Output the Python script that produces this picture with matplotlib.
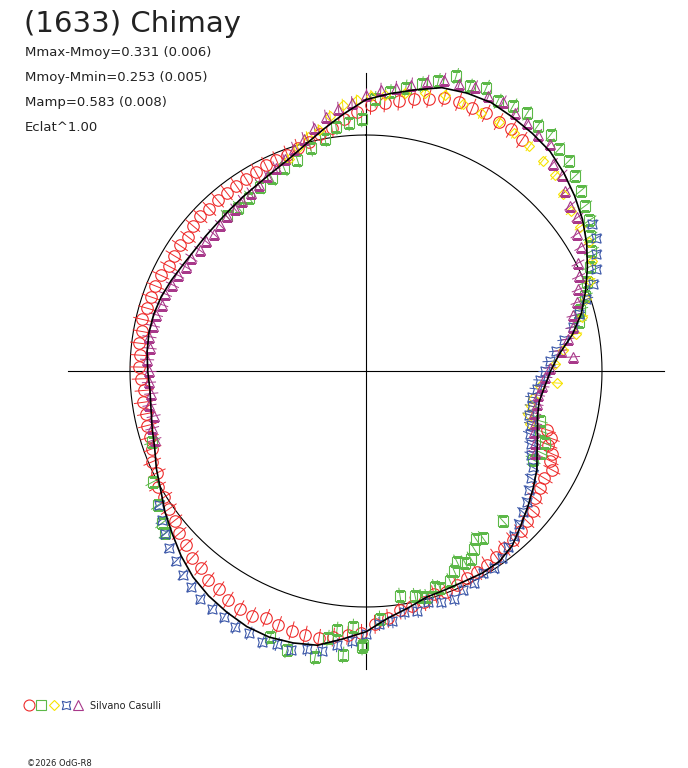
import numpy as np
import matplotlib
matplotlib.use('Agg')
import matplotlib.pyplot as plt

# phase in degrees (0 at top, clockwise), radius relative to the mean-magnitude circle
fit_phase = [0, 5, 10, 15, 20, 25, 30, 35, 40, 45,
             50, 55, 60, 65, 70, 75, 80, 85, 90, 95,
             100, 105, 110, 115, 120, 125, 130, 135, 140, 145,
             150, 155, 160, 165, 170, 175, 180, 185, 190, 195,
             200, 205, 210, 215, 220, 225, 230, 235, 240, 245,
             250, 255, 260, 265, 270, 275, 280, 285, 290, 295,
             300, 305, 310, 315, 320, 325, 330, 335, 340, 345,
             350, 355]
fit_r = [1.150, 1.180, 1.210, 1.243, 1.253, 1.255, 1.242, 1.229, 1.214, 1.186,
         1.154, 1.120, 1.080, 1.035, 0.990, 0.945, 0.888, 0.822, 0.782, 0.760,
         0.745, 0.752, 0.773, 0.800, 0.836, 0.865, 0.895, 0.927, 0.965, 0.985,
         0.988, 0.984, 0.986, 0.992, 1.020, 1.052, 1.105, 1.140, 1.180, 1.193,
         1.200, 1.195, 1.180, 1.163, 1.140, 1.108, 1.072, 1.040, 1.005, 0.980,
         0.953, 0.938, 0.925, 0.919, 0.925, 0.931, 0.934, 0.931, 0.923, 0.910,
         0.897, 0.889, 0.888, 0.889, 0.895, 0.904, 0.915, 0.932, 0.956, 0.993,
         1.040, 1.093]

red_phase = [108, 110, 112, 114, 116, 118, 121, 124, 127, 130,
             133, 136, 139, 142, 145, 148, 151, 154, 157, 160,
             163, 166, 169, 172, 175, 178, 181, 184, 187, 190,
             193, 196, 199, 202, 205, 208, 211, 214, 217, 220,
             223, 226, 229, 232, 235, 238, 241, 244, 247, 250,
             253, 256, 259, 262, 265, 268, 271, 274, 277, 280,
             283, 286, 289, 292, 295, 298, 301, 304, 307, 310,
             313, 316, 319, 322, 325, 328, 331, 334, 337, 340,
             343, 346, 349, 352, 355, 358, 1, 4, 7, 10,
             13, 16, 19, 22, 25, 28, 31, 34]
red_r = [0.805, 0.833, 0.834, 0.865, 0.867, 0.892, 0.882, 0.889, 0.897, 0.925,
         0.934, 0.945, 0.947, 0.953, 0.960, 0.967, 0.972, 0.975, 0.985, 0.996,
         0.990, 1.008, 1.014, 1.023, 1.052, 1.074, 1.112, 1.123, 1.136, 1.150,
         1.148, 1.144, 1.139, 1.128, 1.145, 1.141, 1.132, 1.116, 1.109, 1.090,
         1.081, 1.061, 1.049, 1.029, 1.020, 1.009, 1.010, 0.985, 0.984, 0.963,
         0.959, 0.955, 0.948, 0.953, 0.944, 0.953, 0.961, 0.960, 0.967, 0.964,
         0.972, 0.964, 0.965, 0.963, 0.960, 0.947, 0.950, 0.951, 0.944, 0.958,
         0.960, 0.955, 0.959, 0.959, 0.959, 0.961, 0.963, 0.969, 0.971, 0.976,
         0.988, 1.002, 1.021, 1.041, 1.073, 1.097, 1.126, 1.139, 1.152, 1.170,
         1.185, 1.205, 1.206, 1.204, 1.205, 1.197, 1.194, 1.181]

green_phase = [318, 322, 326, 330, 334, 338, 342, 346, 350, 353,
               356, 359, 2, 5, 8, 11, 14, 17, 20, 23,
               26, 29, 32, 35, 38, 41, 44, 47, 50, 53,
               56, 59, 62, 65, 68, 71, 74, 77,
               106, 109, 112, 115, 118,
               137.6, 145.0, 146.8, 148.7, 150.8, 152.7, 154.5, 156.2, 158.2, 161.2,
               162.3, 164.9, 166.1, 167.7, 171.4, 176.8, 180.6, 180.8, 182.9, 184.6,
               186.4, 188.1, 190.1, 195.8, 199.8,
               231.1, 233.3, 237.2, 242.5, 251.6]
green_r = [0.883, 0.879, 0.886, 0.900, 0.909, 0.926, 0.941, 0.972, 1.000, 1.042,
           1.054, 1.068, 1.152, 1.185, 1.212, 1.237, 1.266, 1.307, 1.283, 1.305,
           1.272, 1.285, 1.287, 1.269, 1.271, 1.248, 1.237, 1.213, 1.189, 1.164,
           1.142, 1.108, 1.082, 1.045, 1.008, 0.981, 0.944, 0.925,
           0.766, 0.779, 0.817, 0.820, 0.802,
           0.861, 0.864, 0.851, 0.882, 0.912, 0.915, 0.897, 0.926, 0.958, 0.971,
           0.961, 0.992, 0.987, 0.976, 0.964, 1.052, 1.161, 1.170, 1.086, 1.207,
           1.104, 1.143, 1.231, 1.229, 1.198,
           1.093, 1.078, 1.048, 1.018, 0.955]

yellow_phase = [340, 343, 346, 349, 352, 355, 358, 1, 4, 8,
                12, 16, 20, 24, 28, 32, 36, 40, 44, 48,
                52, 56, 60, 64, 68, 72, 76, 80, 84, 88,
                93.6, 95, 99, 102, 105, 108]
yellow_r = [0.956, 0.988, 1.022, 1.041, 1.091, 1.133, 1.147, 1.166, 1.174, 1.188,
            1.203, 1.215, 1.203, 1.195, 1.197, 1.187, 1.177, 1.164, 1.152, 1.122,
            1.100, 1.092, 1.090, 1.064, 1.023, 0.982, 0.945, 0.905, 0.839, 0.801,
            0.811, 0.740, 0.718, 0.713, 0.712, 0.730]

blue_phase = [57, 60, 63, 66, 69, 72, 75, 78, 81, 84,
              87, 90, 93, 96, 99, 102, 105, 108, 111, 114,
              117, 120, 123, 126, 129, 132, 135, 138, 141, 144,
              147, 150, 153, 156, 159, 162, 165, 168, 171, 174,
              177, 180, 183, 186, 189, 192, 195, 198, 201, 204,
              207, 210, 213, 216, 219, 222, 225, 228, 231, 234,
              237]
blue_r = [1.144, 1.125, 1.093, 1.066, 1.029, 0.982, 0.935, 0.895, 0.851, 0.809,
          0.779, 0.760, 0.740, 0.727, 0.713, 0.718, 0.717, 0.735, 0.743, 0.765,
          0.784, 0.816, 0.833, 0.856, 0.879, 0.893, 0.917, 0.940, 0.959, 0.981,
          0.996, 0.988, 1.006, 1.014, 1.036, 1.028, 1.012, 1.039, 1.036, 1.066,
          1.073, 1.115, 1.146, 1.168, 1.202, 1.205, 1.223, 1.217, 1.229, 1.216,
          1.219, 1.205, 1.200, 1.194, 1.175, 1.162, 1.138, 1.121, 1.096, 1.071,
          1.046]

purple_phase = [252, 255, 258, 261, 264, 267, 270, 273, 276, 279,
                282, 285, 288, 291, 294, 297, 300, 303, 306, 309,
                312, 315, 318, 321, 324, 327, 330, 333, 336, 339,
                342, 345, 348, 351, 354, 357, 0, 3, 6, 9,
                12, 15, 18, 21, 24, 27, 30, 33, 36, 39,
                42, 45, 48, 51, 54, 57, 60, 63, 66, 69,
                72, 75, 78, 81, 84, 86.1, 89, 92, 95, 98,
                101, 104, 107, 110, 113, 116]
purple_r = [0.942, 0.938, 0.920, 0.929, 0.915, 0.921, 0.920, 0.929, 0.922, 0.929,
            0.923, 0.921, 0.911, 0.911, 0.898, 0.895, 0.882, 0.882, 0.869, 0.873,
            0.868, 0.874, 0.883, 0.882, 0.892, 0.897, 0.910, 0.925, 0.942, 0.961,
            0.991, 1.018, 1.051, 1.091, 1.117, 1.136, 1.170, 1.193, 1.206, 1.229,
            1.253, 1.278, 1.279, 1.289, 1.275, 1.280, 1.262, 1.254, 1.237, 1.237,
            1.183, 1.176, 1.137, 1.112, 1.107, 1.064, 1.050, 1.008, 0.986, 0.964,
            0.942, 0.910, 0.895, 0.866, 0.829, 0.879, 0.781, 0.760, 0.750, 0.736,
            0.736, 0.735, 0.750, 0.758, 0.779, 0.797]

# radial error half-length per session
red_err, green_err, yellow_err, blue_err, purple_err = 0.040, 0.035, 0.025, 0.030, 0.030

info_lines = ['Mmax-Mmoy=0.331 (0.006)', 'Mmoy-Mmin=0.253 (0.005)',
              'Mamp=0.583 (0.008)', 'Eclat^1.00']

W, H = 688, 768
fig = plt.figure(figsize=(W / 100, H / 100), dpi=100)

# polar axes centred at pixel (366, 371), unit circle = 236 px
rmax = 1.36
half = 236 * rmax
ax = fig.add_axes([(366 - half) / W, (H - 371 - half) / H, 2 * half / W, 2 * half / H],
                  projection='polar')
ax.set_theta_zero_location('N')
ax.set_theta_direction(-1)
ax.set_ylim(0, rmax)
ax.axis('off')

# cross and mean circle
for t in [0, 90, 180, 270]:
    ax.plot([np.radians(t)] * 2, [0, 1.263], color='black', lw=0.8, zorder=1)
tt = np.linspace(0, 2 * np.pi, 721)
ax.plot(tt, np.ones_like(tt), color='black', lw=0.8, zorder=1)

series = [
    (red_phase, red_r, red_err, '#ee2b2b', 'o', 8.3, 0.8),
    (green_phase, green_r, green_err, '#5cb848', 's', 6.8, 0.8),
    (yellow_phase, yellow_r, yellow_err, '#f7e300', 'D', 5.2, 0.8),
    (blue_phase, blue_r, blue_err, '#3a56a8', (4, 1, 45), 9.5, 0.8),
    (purple_phase, purple_r, purple_err, '#a8388a', '^', 7.0, 0.8),
]
for ph, r, err, col, mk, ms, mew in series:
    th = np.radians(ph)
    ax.errorbar(th, r, yerr=err, fmt='none', ecolor=col, elinewidth=0.7, capsize=0, zorder=2)
    ax.plot(th, r, linestyle='none', marker=mk, ms=ms, mfc='none', mec=col, mew=mew, zorder=3)

ax.plot(np.radians(fit_phase + [360]), fit_r + [fit_r[0]], color='black', lw=1.2, zorder=4)

# texts
fig.text(24 / W, 1 - 32 / H, '(1633) Chimay', fontsize=21, va='baseline', color='#222222')
for i, line in enumerate(info_lines):
    fig.text(25 / W, 1 - (56 + 25 * i) / H, line, fontsize=9.5, va='baseline', color='#222222')

# session legend at the bottom
lg = fig.add_axes([0, 0, 1, 1])
lg.set_xlim(0, W)
lg.set_ylim(H, 0)
lg.axis('off')
legend_items = [(29, '#ee2b2b', 'o', 7.9), (41, '#5cb848', 's', 6.5), (53.5, '#f7e300', 'D', 5.6),
                (66, '#3a56a8', (4, 1, 45), 8.6), (78, '#a8388a', '^', 6.5)]
for x, col, mk, ms in legend_items:
    lg.plot([x], [705], marker=mk, ms=ms, mfc='none', mec=col, mew=0.8, linestyle='none')
lg.text(90, 709, 'Silvano Casulli', fontsize=7, va='baseline', color='#222222')
lg.text(27, 766, '\u00a92026 OdG-R8', fontsize=6, va='baseline', color='#222222')

fig.savefig('out.png', dpi=100)
